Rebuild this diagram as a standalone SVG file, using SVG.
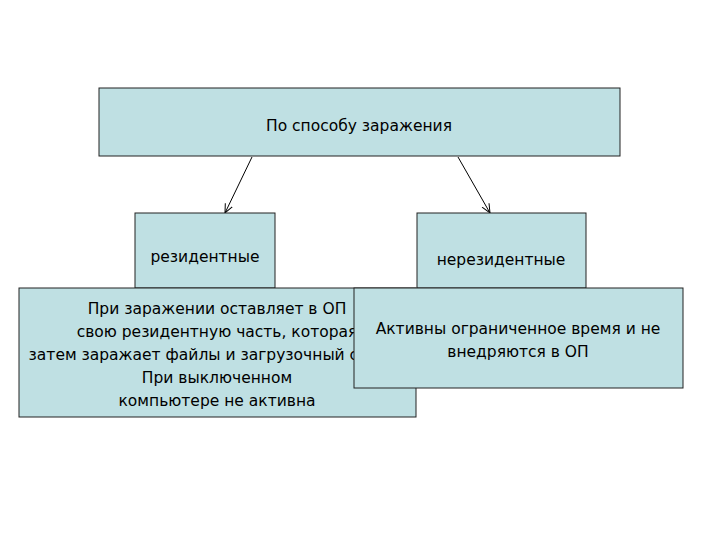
<svg xmlns="http://www.w3.org/2000/svg" width="720" height="540" viewBox="0 0 720 540">
<style>
.b{fill:#bfe0e3;stroke:#222;stroke-width:1}
text{font-family:"DejaVu Sans",Verdana,sans-serif;font-size:15.5px;fill:#000;text-anchor:middle}
.c{stroke:#000;stroke-width:1;fill:none;marker-end:url(#a)}
</style>
<defs><marker id="a" markerWidth="10" markerHeight="10" refX="9" refY="5" orient="auto" markerUnits="userSpaceOnUse"><path d="M0,1 L9,5 L0,9" fill="none" stroke="#000"/></marker></defs>
<rect width="720" height="540" fill="#fff"/>
<g id="connectors">
<line class="c" x1="252" y1="157" x2="225" y2="213"/>
<line class="c" x1="458" y1="157" x2="490" y2="213"/>
</g>
<g id="root"><rect class="b" x="99" y="88" width="521" height="68"/><text x="359" y="131">По способу заражения</text></g>
<g id="res"><rect class="b" x="135" y="213" width="140" height="75"/><text x="205" y="262">резидентные</text></g>
<g id="nonres"><rect class="b" x="417" y="213" width="169" height="75"/><text x="501" y="265">нерезидентные</text></g>
<g id="resdesc"><rect class="b" x="19" y="288" width="397" height="129"/>
<text x="217" y="314">При заражении оставляет в ОП</text>
<text x="217" y="337">свою резидентную часть, которая</text>
<text x="217" y="360">затем заражает файлы и загрузочный сектор</text>
<text x="217" y="383">При выключенном</text>
<text x="217" y="406">компьютере не активна</text></g>
<g id="nonresdesc"><rect class="b" x="354" y="288" width="329" height="100"/>
<text x="518" y="334">Активны ограниченное время и не</text>
<text x="518" y="357">внедряются в ОП</text></g>
</svg>
